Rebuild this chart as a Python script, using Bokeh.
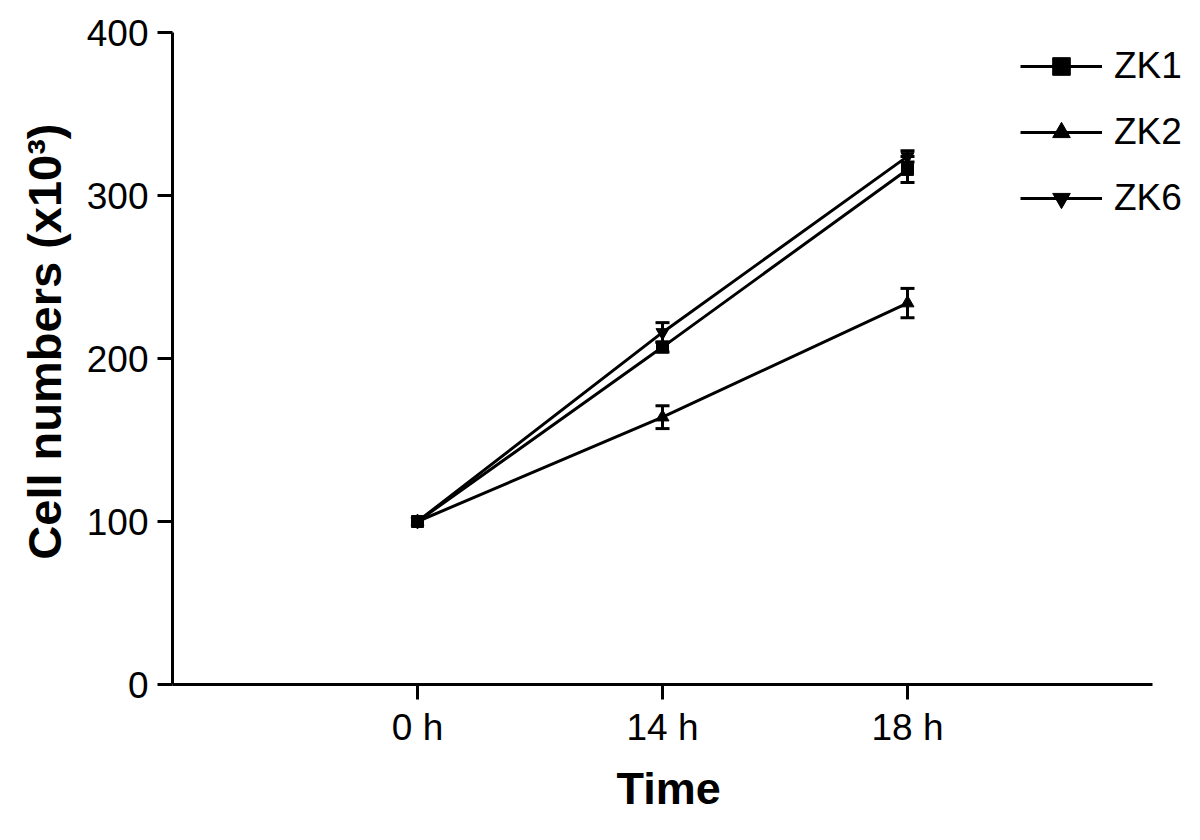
from bokeh.plotting import figure
from bokeh.models import (Whisker, TeeHead, ColumnDataSource, FixedTicker,
                          Legend, LegendItem, Range1d, Title)
from bokeh.embed import file_html
from bokeh.resources import INLINE

# ---- data ----
times = ["0 h", "14 h", "18 h"]
zk1 = [100, 207, 316]
zk1_err = [0, 3, 8]
zk2 = [100, 164, 234]
zk2_err = [0, 7, 9]
zk6 = [100, 216, 324]
zk6_err = [0, 6, 3.5]
y_ticks = [0, 100, 200, 300, 400]
series_names = ["ZK1", "ZK2", "ZK6"]

FONT = "Liberation Sans"
xs = [i + 1 for i in range(len(times))]
x_end = len(times) + 1

# frame extends past the axis end so that the legend is not clipped
p = figure(width=1184, height=824,
           x_range=Range1d(0, x_end * 1012 / 980), y_range=Range1d(0, 400),
           output_backend="svg", toolbar_location=None,
           min_border_left=172, min_border_top=32,
           min_border_right=0, min_border_bottom=140)
p.outline_line_color = None
p.xgrid.grid_line_color = None
p.ygrid.grid_line_color = None
p.background_fill_color = "white"
p.border_fill_color = "white"

# axes
for ax in (p.xaxis[0], p.yaxis[0]):
    ax.axis_line_width = 3
    ax.axis_line_color = "black"
    ax.major_tick_line_width = 3
    ax.major_tick_line_color = "black"
    ax.major_tick_out = 15
    ax.major_tick_in = 0
    ax.minor_tick_out = 0
    ax.minor_tick_in = 0
    ax.major_label_text_font = FONT
    ax.major_label_text_font_size = "37px"
    ax.major_label_text_color = "black"

p.xaxis.bounds = (0, x_end)
p.xaxis.ticker = FixedTicker(ticks=xs)
p.xaxis.major_label_overrides = {x: t for x, t in zip(xs, times)}
p.xaxis.major_label_standoff = 7

p.yaxis.ticker = FixedTicker(ticks=y_ticks)
p.yaxis.major_label_standoff = 9

xtitle = Title(text="Time", align="left", offset=444,
               text_font=FONT, text_font_size="45px", text_font_style="bold",
               text_color="black", standoff=20)
p.add_layout(xtitle, "below")

ytitle = Title(text="Cell numbers (x10³)", align="right", offset=91,
               text_font=FONT, text_font_size="47px", text_font_style="bold",
               text_color="black", standoff=26)
p.add_layout(ytitle, "left")

markers = ["square", "triangle", "inverted_triangle"]
sizes = [12, 13, 13]
items = []
for name, vals, errs, mk, sz in zip(series_names, [zk1, zk2, zk6],
                                   [zk1_err, zk2_err, zk6_err], markers, sizes):
    ln = p.line(xs, vals, line_width=3, color="black")
    sc = p.scatter(xs, vals, marker=mk, size=sz, color="black")
    idx = [i for i, e in enumerate(errs) if e > 0]
    src = ColumnDataSource(dict(
        x=[xs[i] for i in idx],
        upper=[vals[i] + errs[i] for i in idx],
        lower=[vals[i] - errs[i] for i in idx]))
    w = Whisker(source=src, base="x", upper="upper", lower="lower",
                line_width=3, line_color="black",
                upper_head=TeeHead(size=14, line_width=3, line_color="black"),
                lower_head=TeeHead(size=14, line_width=3, line_color="black"))
    p.add_layout(w)
    items.append(LegendItem(label=name, renderers=[ln, sc]))

legend = Legend(items=items, location=(848, 464), orientation="vertical",
                border_line_color=None, background_fill_alpha=0,
                glyph_width=82, glyph_height=44, label_height=44,
                spacing=22, padding=0, margin=0, label_standoff=12,
                label_text_font=FONT, label_text_font_size="37px",
                label_text_color="black")
p.add_layout(legend)

open("out.html", "w").write(file_html(p, INLINE))
